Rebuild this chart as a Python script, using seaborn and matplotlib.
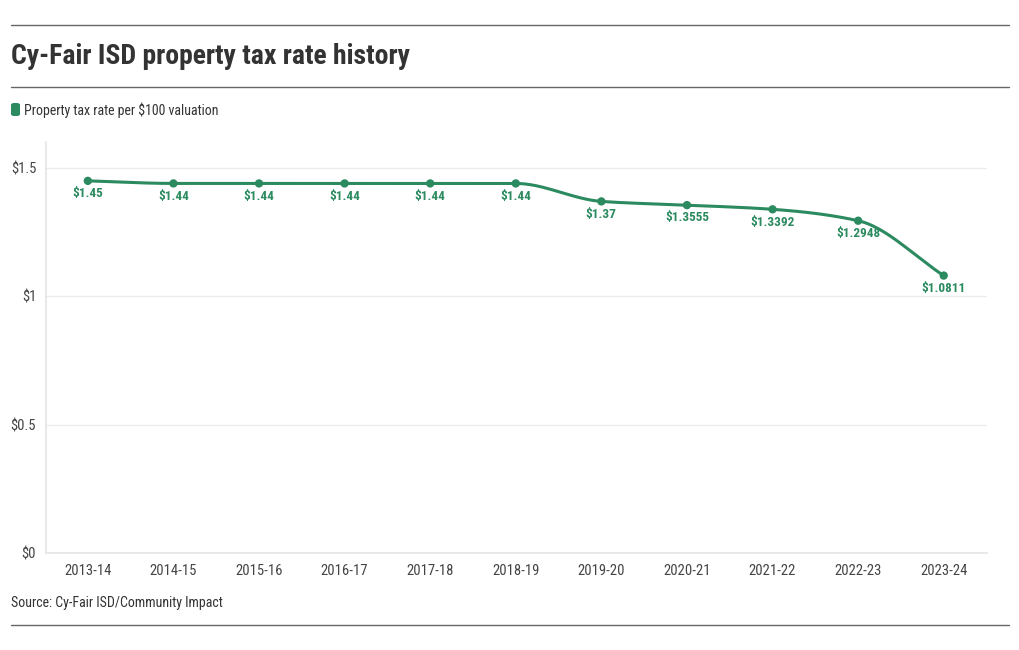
import numpy as np
import pandas as pd
import matplotlib.pyplot as plt
import seaborn as sns
from matplotlib.lines import Line2D
from matplotlib.patches import FancyBboxPatch

# Data
years = ["2013-14", "2014-15", "2015-16", "2016-17", "2017-18", "2018-19",
         "2019-20", "2020-21", "2021-22", "2022-23", "2023-24"]
rates = [1.45, 1.44, 1.44, 1.44, 1.44, 1.44, 1.37, 1.3555, 1.3392, 1.2948, 1.0811]
labels = ["$1.45", "$1.44", "$1.44", "$1.44", "$1.44", "$1.44", "$1.37",
          "$1.3555", "$1.3392", "$1.2948", "$1.0811"]
yticks = [0, 0.5, 1, 1.5]
ytick_labels = ["$0", "$0.5", "$1", "$1.5"]

df = pd.DataFrame({"year": years, "rate": rates})
df["pos"] = np.arange(len(df))

green = "#2b8a5f"

sns.set_theme(style="white")
plt.rcParams["font.family"] = ["Roboto Condensed", "Roboto", "DejaVu Sans"]


def monotone_curve(x, y, n=30):
    # monotone cubic (Fritsch-Carlson) to draw the smooth line through the points
    x = np.asarray(x, float)
    y = np.asarray(y, float)
    h = np.diff(x)
    d = np.diff(y) / h
    m = np.zeros_like(y)
    m[0], m[-1] = d[0], d[-1]
    for i in range(1, len(y) - 1):
        if d[i - 1] * d[i] <= 0:
            m[i] = 0
        else:
            w1 = 2 * h[i] + h[i - 1]
            w2 = h[i] + 2 * h[i - 1]
            m[i] = (w1 + w2) / (w1 / d[i - 1] + w2 / d[i])
    xs, ys = [], []
    for i in range(len(x) - 1):
        t = np.linspace(0, 1, n)
        h00 = 2 * t**3 - 3 * t**2 + 1
        h10 = t**3 - 2 * t**2 + t
        h01 = -2 * t**3 + 3 * t**2
        h11 = t**3 - t**2
        xs.append(x[i] + t * h[i])
        ys.append(h00 * y[i] + h10 * h[i] * m[i] + h01 * y[i + 1] + h11 * h[i] * m[i + 1])
    return np.concatenate(xs), np.concatenate(ys)


fig = plt.figure(figsize=(10.2, 6.5), dpi=100)
ax = fig.add_axes([0.045, 0.149, 0.923, 0.632])

cx, cy = monotone_curve(df["pos"], df["rate"])
ax.plot(cx, cy, color=green, lw=2.2, solid_capstyle="round", zorder=3)
sns.scatterplot(data=df, x="pos", y="rate", color=green, s=36, edgecolor="none",
                ax=ax, zorder=4, legend=False)

for p, r, lab in zip(df["pos"], df["rate"], labels):
    ax.annotate(lab, (p, r), xytext=(0, -4.5), textcoords="offset points",
                ha="center", va="top", fontsize=9.5, fontweight="bold", color=green,
                zorder=5)

ax.set_xlim(-0.49, 10.51)
ax.set_ylim(0, 1.6)
ax.set_xticks(df["pos"])
ax.set_xticklabels(years)
ax.set_yticks(yticks)
ax.set_yticklabels(ytick_labels)
ax.set_xlabel("")
ax.set_ylabel("")
ax.tick_params(axis="x", length=5, color="#e6e6e6", width=1, labelsize=10.5,
               labelcolor="#444444", pad=3)
ax.tick_params(axis="y", length=0, labelsize=10.5, labelcolor="#444444", pad=7)
ax.grid(axis="y", color="#ececec", lw=1)
for s in ["top", "right"]:
    ax.spines[s].set_visible(False)
ax.spines["left"].set_color("#e6e6e6")
ax.spines["bottom"].set_color("#e6e6e6")

# Header, legend and footer
fig.add_artist(Line2D([0.011, 0.989], [1 - 25 / 650] * 2, color="#666666", lw=1))
fig.add_artist(Line2D([0.011, 0.989], [1 - 87 / 650] * 2, color="#666666", lw=1))
fig.add_artist(Line2D([0.011, 0.989], [1 - 625 / 650] * 2, color="#666666", lw=1))
fig.text(0.011, 1 - 57 / 650, "Cy-Fair ISD property tax rate history", fontsize=20,
         fontweight="bold", color="#333333", va="center", ha="left")
fig.add_artist(FancyBboxPatch((11 / 1020, 1 - 116 / 650), 9 / 1020, 13 / 650,
                              boxstyle="round,pad=0,rounding_size=0.003",
                              transform=fig.transFigure, color=green, lw=0))
fig.text(24 / 1020, 1 - 110 / 650, "Property tax rate per $100 valuation", fontsize=10,
         color="#333333", va="center", ha="left")
fig.text(0.011, 1 - 603 / 650, "Source: Cy-Fair ISD/Community Impact", fontsize=10,
         color="#333333", va="center", ha="left")

fig.savefig("out.png", dpi=100)
